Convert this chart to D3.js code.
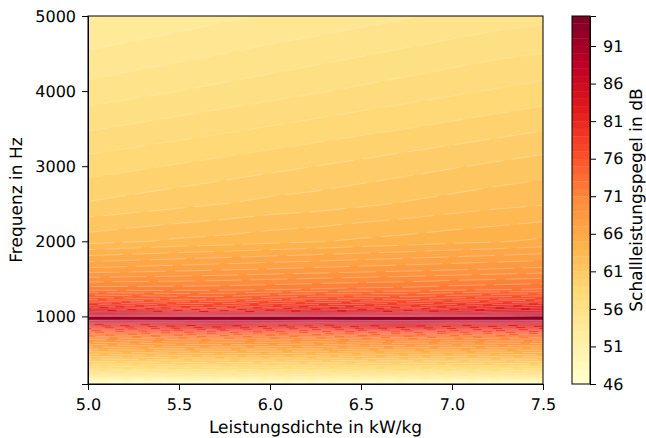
<!DOCTYPE html>
<html>
<head>
<meta charset="utf-8">
<script src="https://cdn.jsdelivr.net/npm/d3@7"></script>
<style>
  body { margin: 0; background: #fff; }
  text { font-family: "DejaVu Sans", sans-serif; fill: #000; text-rendering: geometricPrecision; }
  .tick text { font-size: 16px; }
  .label { font-size: 17px; }
  .domain, .tick line { stroke: #000; stroke-width: 1; }
</style>
</head>
<body>
<svg class="chart"></svg>
<script>
var powerDensity = [5, 5.25, 5.5, 5.75, 6, 6.25, 6.5, 6.75, 7, 7.25, 7.5];
var frequency = [100, 200, 300, 430, 565, 700, 760, 800, 830, 870, 905, 930, 948, 958, 966, 974, 982, 992, 1005, 1020, 1060, 1125, 1230, 1360, 1625, 2000, 2500, 3000, 3500, 4000, 4500, 5000];

// one row per frequency, one column per power density
var levels = [
  [46.3, 46.3, 46.4, 46.4, 46.5, 46.5, 46.5, 46.6, 46.6, 46.7, 46.7],
  [52.6, 52.7, 52.8, 52.8, 52.9, 52.9, 53.0, 53.1, 53.1, 53.2, 53.3],
  [56.9, 57.0, 57.2, 57.2, 57.3, 57.3, 57.5, 57.5, 57.6, 57.6, 57.8],
  [60.8, 61.1, 61.3, 61.4, 61.4, 61.5, 61.7, 61.7, 61.8, 61.8, 62.0],
  [65.0, 65.5, 65.9, 66.1, 65.9, 65.9, 66.3, 66.4, 66.3, 66.4, 66.6],
  [69.2, 69.7, 70.4, 70.3, 70.5, 70.1, 70.8, 71.0, 70.6, 70.8, 71.0],
  [72.2, 72.7, 73.6, 73.9, 73.5, 73.1, 74.0, 74.3, 73.8, 73.9, 74.1],
  [74.8, 75.4, 76.6, 77.2, 76.5, 75.9, 77.1, 77.5, 76.7, 76.9, 77.1],
  [77.2, 77.7, 79.1, 80.1, 79.1, 78.3, 79.8, 80.4, 79.3, 79.4, 79.3],
  [80.6, 81.0, 82.1, 82.9, 82.1, 81.5, 82.6, 83.1, 82.1, 82.2, 82.1],
  [84.0, 84.3, 84.8, 85.2, 85.0, 84.6, 85.1, 85.4, 84.9, 85.0, 84.8],
  [86.6, 87.0, 87.3, 87.6, 87.5, 87.2, 87.5, 87.8, 87.3, 87.2, 87.0],
  [88.2, 88.5, 88.9, 89.1, 89.0, 88.7, 89.0, 89.2, 88.8, 88.6, 88.4],
  [90.4, 90.7, 91.2, 91.1, 91.3, 90.9, 91.2, 91.4, 91.0, 90.8, 90.5],
  [92.6, 92.0, 93.4, 92.4, 93.6, 92.2, 93.4, 93.8, 92.4, 93.1, 92.8],
  [94.6, 93.4, 95.0, 93.8, 95.0, 93.5, 95.0, 95.0, 93.8, 94.8, 94.7],
  [93.4, 92.6, 93.4, 92.8, 93.5, 92.7, 93.3, 93.2, 92.8, 93.5, 93.6],
  [91.0, 90.7, 90.9, 90.6, 90.8, 90.6, 90.7, 90.5, 90.7, 91.1, 91.3],
  [88.8, 88.5, 88.4, 88.1, 88.2, 88.3, 88.1, 88.0, 88.4, 89.0, 89.3],
  [87.2, 86.7, 86.5, 86.3, 86.4, 86.6, 86.3, 86.2, 86.6, 87.4, 87.8],
  [84.4, 83.8, 83.4, 83.2, 83.4, 83.8, 83.6, 83.3, 83.8, 84.5, 85.0],
  [80.9, 79.8, 78.8, 78.5, 79.6, 80.4, 80.2, 79.3, 80.2, 81.4, 81.9],
  [75.8, 75.3, 74.9, 74.9, 75.7, 76.2, 76.2, 75.8, 76.4, 77.0, 77.4],
  [71.6, 71.6, 71.6, 71.7, 71.9, 72.1, 72.3, 72.4, 72.7, 72.9, 73.1],
  [67.3, 67.5, 67.7, 67.9, 68.1, 68.3, 68.5, 68.7, 68.9, 69.1, 69.3],
  [62.6, 62.9, 63.2, 63.4, 63.7, 63.9, 64.2, 64.4, 64.7, 64.9, 65.2],
  [60.1, 60.4, 60.7, 61.0, 61.3, 61.5, 61.8, 62.1, 62.4, 62.7, 62.9],
  [58.5, 58.8, 59.1, 59.4, 59.7, 60.0, 60.3, 60.6, 60.9, 61.2, 61.5],
  [56.9, 57.2, 57.5, 57.8, 58.1, 58.4, 58.7, 59.0, 59.3, 59.6, 59.9],
  [55.4, 55.7, 56.0, 56.3, 56.6, 56.9, 57.2, 57.5, 57.8, 58.1, 58.4],
  [54.1, 54.4, 54.7, 55.0, 55.3, 55.6, 55.9, 56.2, 56.5, 56.8, 57.0],
  [52.9, 53.2, 53.5, 53.8, 54.1, 54.3, 54.6, 54.9, 55.2, 55.5, 55.7]
];

var bandEdges = d3.range(46, 96);
var xTicks = [5, 5.5, 6, 6.5, 7, 7.5];
var yTicks = [1000, 2000, 3000, 4000, 5000];
var barTicks = [46, 51, 56, 61, 66, 71, 76, 81, 86, 91];
var ylOrRd = ["#ffffcc", "#ffeda0", "#fed976", "#feb24c", "#fd8d3c", "#fc4e2a", "#e31a1c", "#bd0026", "#800026"];

var margin = {top: 16, bottom: 54, left: 88, right: 103},
    width = 646 - margin.left - margin.right,
    height = 438 - margin.top - margin.bottom;

var svg = d3.select(".chart")
    .attr("width", 646)
    .attr("height", 438);

var plot = svg.append("g")
    .attr("transform", "translate(" + margin.left + "," + margin.top + ")");

var x = d3.scaleLinear().domain([5, 7.5]).range([0, width]);
var y = d3.scaleLinear().domain([100, 5000]).range([height, 0]);

var ramp = d3.scaleLinear()
    .domain(ylOrRd.map(function(d, i) { return i / 8; }))
    .range(ylOrRd);

function bandColor(i) { return ramp(i / (bandEdges.length - 2)); }

// grid index -> data position, the rows are not evenly spaced
var colPos = d3.scaleLinear()
    .domain(powerDensity.map(function(d, i) { return i + 0.5; }))
    .range(powerDensity.map(function(d) { return x(d); }));
var rowPos = d3.scaleLinear()
    .domain(frequency.map(function(d, i) { return i + 0.5; }))
    .range(frequency.map(function(d) { return y(d); }));

var path = d3.geoPath(d3.geoTransform({
  point: function(a, b) { this.stream.point(colPos(a), rowPos(b)); }
}));

var contours = d3.contours()
    .size([powerDensity.length, frequency.length])
    .thresholds(bandEdges.slice(0, -1))
    (d3.merge(levels));

svg.append("clipPath")
    .attr("id", "plot-clip")
  .append("rect")
    .attr("width", width)
    .attr("height", height);

// pale broken seams between the filled bands, none along the dark ridge
plot.append("g")
    .attr("clip-path", "url(#plot-clip)")
  .selectAll("path")
    .data(contours)
  .enter().append("path")
    .attr("d", path)
    .attr("fill", function(d, i) { return bandColor(i); })
    .attr("stroke", "#fff")
    .attr("stroke-opacity", function(d) { return d.value >= 91 ? 0 : d.value >= 84 ? 0.35 : d.value >= 60 ? 0.45 : 0.3; })
    .attr("stroke-width", function(d) { return d.value >= 84 ? 0.8 : 0.6; })
    .attr("stroke-dasharray", function(d) { return d.value >= 84 ? null : "37 9"; })
    .attr("stroke-dashoffset", function(d) { return d.value * 23; });

plot.append("rect")
    .attr("width", width)
    .attr("height", height)
    .attr("fill", "none")
    .attr("stroke", "#000");

plot.append("g")
    .attr("transform", "translate(0," + height + ")")
    .call(d3.axisBottom(x).tickValues(xTicks).tickFormat(d3.format(".1f")).tickSizeOuter(0).tickSize(6).tickPadding(8.5));

plot.append("g")
    .call(d3.axisLeft(y).tickValues(yTicks).tickFormat(d3.format("d")).tickSizeOuter(0).tickSize(6).tickPadding(6));

plot.append("text")
    .attr("class", "label")
    .attr("x", width / 2)
    .attr("y", height + 49)
    .style("text-anchor", "middle")
    .text("Leistungsdichte in kW/kg");

plot.append("text")
    .attr("class", "label")
    .attr("transform", "translate(-66," + (height / 2) + ") rotate(-90)")
    .style("text-anchor", "middle")
    .text("Frequenz in Hz");

// colour bar
var bar = svg.append("g")
    .attr("transform", "translate(572," + margin.top + ")");
var barWidth = 18;
var barScale = d3.scaleLinear().domain([46, 95]).range([height, 0]);

bar.selectAll("rect.band")
    .data(bandEdges.slice(0, -1))
  .enter().append("rect")
    .attr("class", "band")
    .attr("width", barWidth)
    .attr("y", function(d) { return barScale(d + 1); })
    .attr("height", function(d) { return barScale(d) - barScale(d + 1) + 0.3; })
    .attr("fill", function(d, i) { return bandColor(i); });

bar.append("rect")
    .attr("width", barWidth)
    .attr("height", height)
    .attr("fill", "none")
    .attr("stroke", "#000");

bar.append("g")
    .attr("transform", "translate(" + barWidth + ",0)")
    .call(d3.axisRight(barScale).tickValues(barTicks).tickFormat(d3.format("d")).tickSizeOuter(0).tickSize(6).tickPadding(7));

bar.append("text")
    .attr("class", "label")
    .attr("transform", "translate(69.5," + (height / 2) + ") rotate(-90)")
    .style("text-anchor", "middle")
    .text("Schallleistungspegel in dB");
</script>
</body>
</html>
